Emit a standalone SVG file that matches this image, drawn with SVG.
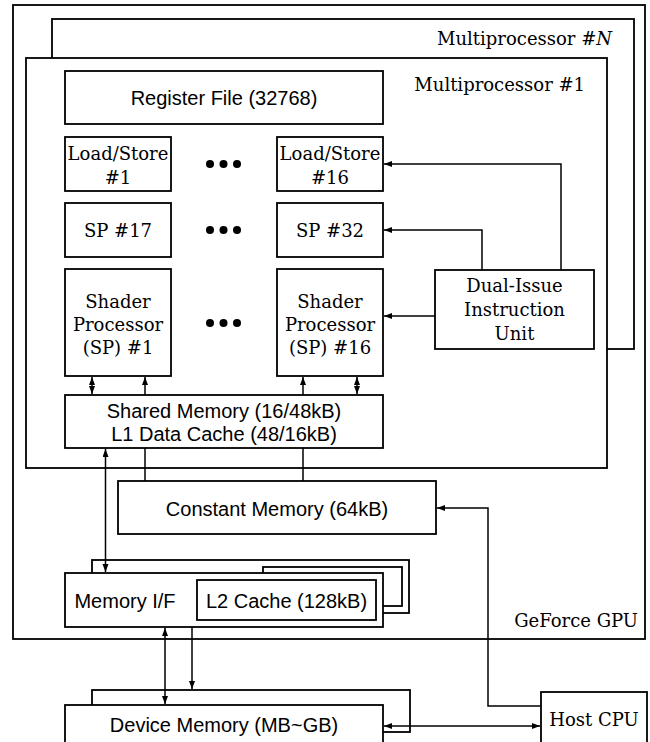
<svg xmlns="http://www.w3.org/2000/svg" width="650" height="742" viewBox="0 0 650 742">
  <style>
    .box { fill: #fff; stroke: #000; stroke-width: 1.8; }
    .wire { fill: none; stroke: #000; stroke-width: 1.5; }
    .serif { font-family: "DejaVu Serif", "Liberation Serif", serif; font-size: 18px; fill: #000; }
    .sans { font-family: "Liberation Sans", Arial, sans-serif; font-size: 20px; fill: #000; }
    .mid { text-anchor: middle; }
    .end { text-anchor: end; }
  </style>
  <defs>
    <marker id="arrow" markerUnits="userSpaceOnUse" markerWidth="9" markerHeight="7" refX="8" refY="3" orient="auto-start-reverse">
      <path d="M0,0 L8,3 L0,6 z" fill="#000"/>
    </marker>
  </defs>

  <rect width="650" height="742" fill="#fff"/>

  <!-- GPU enclosure -->
  <g id="gpu">
    <rect class="box" x="13" y="5" width="632" height="634"/>
    <text class="serif end" x="638" y="627">GeForce GPU</text>
  </g>

  <!-- stacked multiprocessors -->
  <g id="multiprocessor-n">
    <rect class="box" x="52" y="19" width="582" height="330"/>
    <text class="serif end" x="612" y="45">Multiprocessor #<tspan font-style="italic">N</tspan></text>
  </g>
  <g id="multiprocessor-1">
    <rect class="box" x="26" y="58" width="581" height="410"/>
    <text class="serif end" x="585" y="91">Multiprocessor #1</text>
  </g>

  <g id="register-file">
    <rect class="box" x="65" y="71" width="318" height="53"/>
    <text class="sans mid" x="224" y="105">Register File (32768)</text>
  </g>

  <g id="load-store-1">
    <rect class="box" x="65" y="137" width="106" height="54"/>
    <text class="serif mid" x="118" y="160">Load/Store</text>
    <text class="serif mid" x="118" y="184">#1</text>
  </g>
  <g id="load-store-16">
    <rect class="box" x="277" y="137" width="106" height="54"/>
    <text class="serif mid" x="330" y="160">Load/Store</text>
    <text class="serif mid" x="330" y="184">#16</text>
  </g>

  <g id="sp-17">
    <rect class="box" x="65" y="203" width="106" height="54"/>
    <text class="serif mid" x="118" y="237">SP #17</text>
  </g>
  <g id="sp-32">
    <rect class="box" x="277" y="203" width="106" height="54"/>
    <text class="serif mid" x="330" y="237">SP #32</text>
  </g>

  <g id="shader-1">
    <rect class="box" x="65" y="269" width="106" height="107"/>
    <text class="serif mid" x="118" y="308">Shader</text>
    <text class="serif mid" x="118" y="331">Processor</text>
    <text class="serif mid" x="118" y="354">(SP) #1</text>
  </g>
  <g id="shader-16">
    <rect class="box" x="277" y="269" width="106" height="107"/>
    <text class="serif mid" x="330" y="308">Shader</text>
    <text class="serif mid" x="330" y="331">Processor</text>
    <text class="serif mid" x="330" y="354">(SP) #16</text>
  </g>

  <!-- ellipses between unit columns -->
  <g id="ellipses" fill="#000">
    <circle cx="210" cy="164" r="4"/><circle cx="223.5" cy="164" r="4"/><circle cx="237" cy="164" r="4"/>
    <circle cx="210" cy="230" r="4"/><circle cx="223.5" cy="230" r="4"/><circle cx="237" cy="230" r="4"/>
    <circle cx="210" cy="323" r="4"/><circle cx="223.5" cy="323" r="4"/><circle cx="237" cy="323" r="4"/>
  </g>

  <g id="dual-issue">
    <rect class="box" x="435" y="270" width="159" height="79"/>
    <text class="serif mid" x="514.5" y="292">Dual-Issue</text>
    <text class="serif mid" x="514.5" y="316">Instruction</text>
    <text class="serif mid" x="514.5" y="340">Unit</text>
  </g>

  <g id="shared-memory">
    <rect class="box" x="65" y="395" width="318" height="53"/>
    <text class="sans mid" x="224" y="418">Shared Memory (16/48kB)</text>
    <text class="sans mid" x="224" y="441">L1 Data Cache (48/16kB)</text>
  </g>

  <g id="constant-memory">
    <rect class="box" x="118" y="481" width="318" height="53"/>
    <text class="sans mid" x="277" y="516">Constant Memory (64kB)</text>
  </g>

  <g id="memory-if">
    <rect class="box" x="92" y="560" width="317" height="53"/>
    <rect class="box" x="263" y="567" width="139" height="39"/>
    <rect class="box" x="65" y="573" width="318" height="54"/>
    <text class="sans mid" x="125" y="608">Memory I/F</text>
    <g id="l2-cache">
      <rect class="box" x="197" y="580" width="179" height="40"/>
      <text class="sans mid" x="286.5" y="608">L2 Cache (128kB)</text>
    </g>
  </g>

  <g id="device-memory">
    <rect class="box" x="92" y="690" width="318" height="42"/>
    <rect class="box" x="65" y="705" width="318" height="50"/>
    <text class="sans mid" x="224" y="732">Device Memory (MB~GB)</text>
  </g>

  <g id="host-cpu">
    <rect class="box" x="541" y="692" width="106" height="60"/>
    <text class="serif mid" x="594" y="726">Host CPU</text>
  </g>

  <g id="connectors" class="wire">
    <!-- instruction unit dispatch -->
    <polyline points="561,270 561,164 384,164" marker-end="url(#arrow)"/>
    <polyline points="482,270 482,230 384,230" marker-end="url(#arrow)"/>
    <line x1="435" y1="316" x2="384" y2="316" marker-end="url(#arrow)"/>

    <!-- shader processors to shared memory -->
    <line x1="92" y1="377" x2="92" y2="394" marker-start="url(#arrow)" marker-end="url(#arrow)"/>
    <line x1="145" y1="395" x2="145" y2="377" marker-end="url(#arrow)"/>
    <line x1="303" y1="395" x2="303" y2="377" marker-end="url(#arrow)"/>
    <line x1="357" y1="377" x2="357" y2="394" marker-start="url(#arrow)" marker-end="url(#arrow)"/>

    <!-- shared memory to constant memory -->
    <line x1="145" y1="448" x2="145" y2="481"/>
    <line x1="303" y1="448" x2="303" y2="481"/>

    <!-- L1 to memory interface -->
    <line x1="105.5" y1="449" x2="105.5" y2="572" marker-start="url(#arrow)" marker-end="url(#arrow)"/>

    <!-- memory interface to device memory -->
    <line x1="165" y1="628" x2="165" y2="704" marker-start="url(#arrow)" marker-end="url(#arrow)"/>
    <line x1="192" y1="627" x2="192" y2="689" marker-end="url(#arrow)"/>

    <!-- host CPU links -->
    <polyline points="541,706 488,706 488,508 437,508" marker-end="url(#arrow)"/>
    <line x1="384" y1="726" x2="540" y2="726" marker-start="url(#arrow)" marker-end="url(#arrow)"/>
  </g>
</svg>
